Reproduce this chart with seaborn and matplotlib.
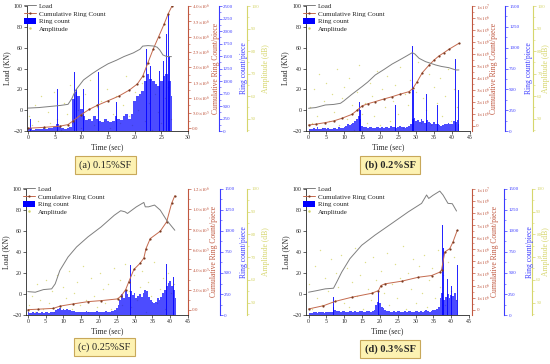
import numpy as np
import matplotlib.pyplot as plt
import seaborn as sns
from matplotlib.lines import Line2D
from matplotlib.patches import Patch
from matplotlib.ticker import AutoMinorLocator

sns.set_style("ticks")
plt.rcParams['font.family'] = ['Liberation Serif', 'DejaVu Serif']
plt.rcParams['mathtext.fontset'] = 'stix'

# colours
C_LOAD = '#7f7f7f'
C_CUM = '#c46a4e'
C_CUM_MK = '#7a3b22'
C_RED = '#c0573f'
C_BLUE = '#0000ff'
C_BLUE_AX = '#3b3bff'
C_YEL = '#d6d66c'

# -------------------------------
# (a) 0.15%SF
# -------------------------------
load_t_a = [0, 2, 4, 6, 7.5, 8.2, 8.9, 10.4, 12, 13.5, 15, 16.6, 18, 19.75, 21, 21.5, 22.5, 23.5, 24.2, 24.7, 25.3, 26, 26.9]
load_a = [2, 2.5, 3.5, 4.5, 5.6, 11, 19, 29, 35, 40, 44.5, 48, 51.5, 55, 58.5, 61.5, 62, 61.6, 60.5, 57.8, 53, 51.5, 51.4]
cum_t_a = [0, 3, 6, 7.5, 8.5, 10, 11.5, 13, 15, 17, 19, 20.5, 21.5, 22.5, 23.5, 24.5, 25.5, 26.3, 27]
cum_a = [0, 0.03e6, 0.07e6, 0.12e6, 0.25e6, 0.45e6, 0.62e6, 0.75e6, 0.9e6, 1.05e6, 1.25e6, 1.45e6,
         1.7e6, 2.15e6, 2.6e6, 3.0e6, 3.4e6, 3.75e6, 4.0e6]
# ring count envelope, one value every 0.5 s from t = 0
env_a = [40, 60, 30, 40, 50, 40, 60, 50, 70, 60, 80, 150, 90, 60, 50, 60, 80, 650, 780, 700,
         450, 300, 220, 250, 200, 300, 250, 200, 180, 250, 200, 180, 200, 300, 250, 220, 300, 350, 250, 350,
         600, 700, 750, 800, 1000, 1150, 1050, 1000, 950, 900, 1000, 1100, 1150, 1000, 700]
spike_t_a = [0.4, 5.5, 8.7, 9.1, 10.4, 12.0, 13.2, 14.8, 16.6, 18.0, 19.7, 21.0, 22.2, 23.0, 23.8, 24.6, 25.4, 25.9, 26.3, 26.6, 27.0]
spike_a = [250, 850, 1190, 850, 850, 500, 1190, 850, 590, 450, 1390, 900, 1650, 1300, 1250, 1200, 1400, 1950, 2320, 1500, 850]
amp_t_a = [0.2, 0.8, 1.3, 1.9, 2.4, 3.1, 3.7, 4.2, 4.9, 5.4, 6.1, 6.7, 7.3, 7.8, 8.3, 8.9, 9.4, 10.0, 10.6, 11.2,
           11.7, 12.3, 12.9, 13.6, 14.2, 14.8, 15.3, 15.9, 16.5, 17.2, 17.8, 18.3, 18.9, 19.5, 20.1, 20.7, 21.3,
           21.9, 22.6, 23.2, 23.8, 24.4, 25.0, 25.7, 26.3, 26.9]
amp_a = [51, 47, 56, 49, 60, 46, 53, 48, 62, 50, 45, 57, 52, 65, 48, 59, 54, 46, 61, 50, 67, 47, 55, 58, 49,
         63, 46, 52, 60, 48, 56, 69, 51, 47, 62, 54, 66, 49, 57, 45, 61, 53, 48, 59, 64, 50]

# -------------------------------
# (b) 0.2%SF
# -------------------------------
load_t_b = [0, 2, 4.7, 7, 8.9, 9.8, 12, 14.9, 16.5, 18.6, 21, 23.3, 25, 27, 28.9, 29.6, 30.8, 32.6, 35.4, 37, 39.1, 41, 41.9]
load_b = [1.8, 2.5, 5, 5.5, 6.6, 8.8, 15, 22.6, 27, 33.8, 39, 44.3, 47.5, 51.4, 55.2, 54, 49.8, 46.6, 43.4, 42, 40.8, 38.6, 38.6]
cum_t_b = [0, 2, 4.7, 7, 9.3, 12.1, 13.5, 14.9, 16.5, 18.6, 21, 23.3, 25.5, 28, 29.1, 30.3, 31.7, 33.6, 35, 36.3, 37.7, 39.1, 41.9]
cum_b = [0.08e6, 0.15e6, 0.28e6, 0.42e6, 0.64e6, 0.97e6, 1.3e6, 1.67e6, 1.85e6, 2.03e6, 2.25e6, 2.44e6,
         2.65e6, 2.86e6, 3.14e6, 3.7e6, 4.44e6, 5.08e6, 5.5e6, 5.83e6, 6.1e6, 6.39e6, 6.89e6]
env_b = [40, 30, 25, 35, 30, 45, 30, 25, 35, 40, 30, 35, 30, 25, 40, 35, 30, 45, 40, 35,
         50, 60, 80, 70, 90, 100, 120, 140, 180, 150,
         60, 50, 45, 40, 50, 45, 40, 35, 45, 50, 40, 45, 40, 50, 45, 40, 55, 50, 45, 40, 45, 60, 50, 45, 40, 50, 60, 80,
         150, 160, 120, 130, 110, 140, 120, 100, 130, 110, 100, 90, 110, 80, 90, 70,
         60, 70, 80, 90, 100, 80, 90, 120, 110, 130, 80]
spike_t_b = [10.7, 14.2, 14.5, 24.2, 28.9, 29.3, 30.8, 32.2, 32.9, 33.8, 35.0, 35.9, 39.1, 41.0, 41.8]
spike_b = [500, 350, 250, 310, 1020, 490, 520, 810, 450, 470, 290, 310, 230, 870, 490]
amp_t_b = [0.3, 1.0, 1.6, 2.3, 3.0, 3.7, 4.3, 5.0, 5.8, 6.4, 7.1, 7.9, 8.6, 9.2, 9.9, 10.7, 11.4, 12.0, 12.8, 13.5,
           14.1, 14.9, 15.6, 16.2, 17.0, 17.7, 18.3, 19.1, 19.8, 20.5, 21.2, 21.9, 22.6, 23.4, 24.1, 24.8, 25.5,
           26.3, 27.0, 27.7, 28.4, 29.1, 29.9, 30.6, 31.3, 32.0, 32.8, 33.5, 34.2, 35.0, 35.7, 36.5, 37.3, 38.1,
           38.9, 39.7, 40.5, 41.3]
amp_b = [55, 48, 63, 51, 70, 46, 58, 66, 49, 61, 53, 72, 47, 59, 64, 50, 68, 56, 45, 62, 74, 52, 57, 48, 66,
         60, 51, 71, 47, 63, 55, 69, 49, 58, 65, 52, 73, 46, 61, 56, 67, 50, 62, 75, 48, 59, 54, 70, 47, 64,
         57, 68, 51, 60, 72, 49, 63, 55]

# -------------------------------
# (c) 0.25%SF
# -------------------------------
load_t_c = [0, 2.1, 4.4, 6.7, 7.7, 9, 11.3, 13.7, 16.9, 20.6, 24.3, 26.1, 27.3, 28, 28.9, 30.5, 32.6, 33, 33.9, 35.6, 37.2, 39, 41.3]
load_c = [2.3, 1.7, 4.2, 4.9, 9.7, 22.4, 35.2, 44.8, 54.4, 63.9, 75, 79.3, 78.3, 76.7, 79, 83, 87.2, 83, 83, 84.7, 79.9, 70.3, 60.7]
cum_t_c = [0, 3, 7.2, 9, 12.7, 16.9, 20.6, 25.2, 26.3, 27.5, 28.4, 29.8, 31.5, 32.6, 33.2, 34.4, 37.2, 39, 40.4, 41.3]
cum_c = [0, 0.05e5, 0.13e5, 0.35e5, 0.57e5, 0.8e5, 0.9e5, 1.07e5, 1.4e5, 2.0e5, 2.8e5, 4.0e5, 4.6e5,
         5.13e5, 6.07e5, 7.07e5, 7.8e5, 8.73e5, 10.57e5, 11.33e5]
env_c = [30, 25, 20, 30, 25, 30, 20, 25, 30, 25, 35, 30, 25, 30, 35, 40,
         60, 70, 80, 60, 75, 65, 70, 60, 55, 50, 45, 40,
         35, 30, 40, 35, 30, 45, 40, 35, 30, 40, 35, 45, 40, 35, 30, 40, 45, 35, 40, 50, 45, 60, 80, 120,
         180, 250, 200, 300, 250, 220, 280, 240, 260, 200, 230, 250, 210, 260, 300, 280,
         220, 180, 160, 140, 150, 200, 180, 220, 260, 300, 340, 380, 400, 350, 300, 200]
spike_t_c = [26.8, 27.9, 28.9, 29.3, 31.0, 33.2, 33.5, 34.1, 36.0, 37.2, 39.0, 39.9, 40.9]
spike_c = [630, 790, 590, 550, 630, 1410, 1150, 790, 270, 390, 610, 670, 450]
amp_t_c = [0.4, 1.2, 2.0, 2.7, 3.5, 4.4, 5.1, 5.9, 6.8, 7.5, 8.3, 9.0, 9.9, 10.6, 11.5, 12.3, 13.0, 13.9, 14.6,
           15.4, 16.3, 17.0, 17.8, 18.7, 19.4, 20.2, 21.1, 21.8, 22.6, 23.5, 24.2, 25.0, 25.9, 26.6, 27.4, 28.3,
           29.0, 29.8, 30.7, 31.4, 32.2, 33.1, 33.8, 34.6, 35.5, 36.2, 37.0, 37.9, 38.6, 39.4, 40.3, 41.1]
amp_c = [49, 53, 46, 58, 51, 47, 60, 50, 55, 46, 62, 48, 57, 52, 64, 47, 54, 59, 49, 66, 51, 46, 61, 53, 48,
         63, 56, 50, 58, 47, 65, 52, 60, 49, 67, 55, 48, 62, 51, 57, 64, 46, 59, 53, 68, 50, 56, 61, 47, 63, 54, 58]

# -------------------------------
# (d) 0.3%SF
# -------------------------------
load_t_d = [0, 2, 4.7, 7, 7.9, 9.3, 11.6, 14.9, 18.6, 23.3, 28, 31.7, 33.1, 33.7, 34.9, 36.8, 37.7, 39.1, 40.3, 41.5]
load_d = [1.7, 3, 4.9, 5.5, 11.3, 20.8, 33.6, 46.4, 56, 67.1, 78.3, 86.3, 94.3, 91, 94, 98, 94.3, 86.3, 86, 79]
cum_t_d = [0, 4.2, 7.5, 12.1, 17.7, 19.6, 20.3, 21.4, 26.1, 30.8, 34.5, 36.8, 37.3, 38.2, 39.6, 40.5, 41.7]
cum_d = [0.06e6, 0.33e6, 0.69e6, 1.03e6, 1.36e6, 1.58e6, 2.0e6, 2.14e6, 2.36e6, 2.69e6, 2.83e6, 3.11e6,
         3.3e6, 4.78e6, 5.06e6, 5.61e6, 6.58e6]
env_d = [30, 25, 20, 30, 35, 25, 30, 40, 30, 25, 35, 30, 40, 35,
         90, 60, 50, 45, 40, 50, 45, 40, 35, 45, 50, 40, 45, 35, 40, 50, 45, 40, 35, 45, 50, 40, 45, 60,
         120, 160, 140, 100, 80, 60, 50, 45,
         40, 35, 45, 40, 50, 45, 40, 35, 45, 40, 50, 45, 40, 35, 45, 50, 40, 45, 40, 50, 55, 45, 40, 50, 60, 55, 70, 90,
         200, 260, 180, 220, 250, 200, 240, 230, 260, 180]
spike_t_d = [7.0, 19.6, 37.5, 37.8, 39.0, 40.1, 41.0, 41.8]
spike_d = [210, 270, 1070, 800, 430, 350, 840, 590]
amp_t_d = [0.2, 0.9, 1.7, 2.4, 3.2, 3.9, 4.7, 5.4, 6.2, 6.9, 7.7, 8.4, 9.2, 9.9, 10.7, 11.4, 12.2, 12.9, 13.7,
           14.4, 15.2, 15.9, 16.7, 17.4, 18.2, 18.9, 19.7, 20.4, 21.2, 21.9, 22.7, 23.4, 24.2, 24.9, 25.7, 26.4,
           27.2, 27.9, 28.7, 29.4, 30.2, 30.9, 31.7, 32.4, 33.2, 33.9, 34.7, 35.4, 36.2, 36.9, 37.7, 38.4, 39.2,
           39.9, 40.7, 41.4]
amp_d = [58, 47, 66, 52, 73, 49, 61, 55, 69, 46, 63, 57, 71, 50, 65, 48, 59, 74, 53, 62, 47, 68, 56, 51, 70,
         60, 45, 64, 54, 72, 49, 58, 67, 52, 61, 75, 47, 63, 56, 69, 50, 66, 54, 71, 48, 60, 65, 52, 73, 57,
         62, 49, 68, 55, 70, 51]

captions = ['(a) 0.15%SF', '(b) 0.2%SF', '(c) 0.25%SF', '(d) 0.3%SF']


def sci_label(v, dec):
    if v == 0:
        return '0.0' if dec else '0'
    e = int(np.floor(np.log10(v) + 1e-9))
    m = v / 10 ** e
    return rf'${m:.{dec}f}{{\times}}10^{{{e}}}$'


def draw_panel(fig, rect, load_t, load, cum_t, cum, env, spike_t, spike, amp_t, amp,
               xmax, xmin, red_lim, red_step, red_dec, blue_max, offs, labx):
    ax = fig.add_axes(rect)
    ax_red = ax.twinx()
    ax_blue = ax.twinx()
    ax_yel = ax.twinx()
    for a, z in ((ax, 10), (ax_red, 9), (ax_blue, 6), (ax_yel, 5)):
        a.set_zorder(z)
        a.patch.set_visible(False)

    # amplitude dots
    sns.scatterplot(x=amp_t, y=amp, ax=ax_yel, s=1.0, color=C_YEL, alpha=0.8, linewidth=0, legend=False)

    # ring count: dense envelope + tall spikes
    env_t = np.arange(len(env)) * 0.5
    ax_blue.fill_between(env_t, env, step='mid', color=C_BLUE, alpha=0.7, linewidth=0)
    ax_blue.bar(spike_t, spike, width=0.15, color=C_BLUE, alpha=0.85, linewidth=0)

    # cumulative ring count
    sns.lineplot(x=cum_t, y=cum, ax=ax_red, color=C_CUM, lw=0.7, marker='o', markersize=1.6,
                 markerfacecolor=C_CUM_MK, markeredgewidth=0, sort=False, estimator=None)

    # load
    sns.lineplot(x=load_t, y=load, ax=ax, color=C_LOAD, lw=0.7, sort=False, estimator=None)

    # main axes
    ax.set_xlim(xmin, xmax)
    ax.set_ylim(-20, 100)
    ax.set_yticks(range(-20, 101, 20))
    ax.set_xticks(range(0, int(xmax) + 1, 5))
    ax.spines['top'].set_visible(False)
    ax.spines['right'].set_visible(False)
    for s in ('left', 'bottom'):
        ax.spines[s].set_linewidth(0.6)
    ax.tick_params(labelsize=4.2, length=2, width=0.5, pad=1)
    ax.set_xlabel('Time (sec)', fontsize=5.5, labelpad=2)
    ax.set_ylabel('Load (KN)', fontsize=5.5)
    ax.yaxis.set_label_coords(-0.1, 0.5)

    # red axis
    ax_red.set_ylim(*red_lim)
    red_ticks = np.arange(0, red_lim[1] + red_step / 2, red_step)
    ax_red.set_yticks(red_ticks)
    ax_red.set_yticklabels([sci_label(v, red_dec) for v in red_ticks])
    ax_red.yaxis.set_minor_locator(AutoMinorLocator(2))
    ax_red.set_ylabel('Cumulative Ring Count/piece', fontsize=5.5, color=C_RED)
    ax_red.yaxis.set_label_coords(labx[0], 0.5)

    # blue axis
    ax_blue.set_ylim(0, blue_max)
    ax_blue.set_yticks(range(0, blue_max + 1, 250))
    ax_blue.yaxis.set_minor_locator(AutoMinorLocator(2))
    ax_blue.set_ylabel('Ring count/piece', fontsize=5.5, color=C_BLUE_AX)
    ax_blue.yaxis.set_label_coords(labx[1], 0.5)

    # amplitude axis
    ax_yel.set_ylim(44.5, 100)
    ax_yel.set_yticks(range(50, 101, 10))
    ax_yel.yaxis.set_minor_locator(AutoMinorLocator(2))
    ax_yel.set_ylabel('Amplitude (dB)', fontsize=5.5, color=C_YEL)
    ax_yel.yaxis.set_label_coords(labx[2], 0.5)

    for a, col, off in ((ax_red, C_RED, offs[0]), (ax_blue, C_BLUE_AX, offs[1]), (ax_yel, C_YEL, offs[2])):
        for s in ('top', 'bottom', 'left'):
            a.spines[s].set_visible(False)
        a.spines['right'].set_position(('axes', off))
        a.spines['right'].set_color(col)
        a.spines['right'].set_linewidth(0.8)
        a.tick_params(axis='y', which='major', labelsize=3.6, length=2, width=0.5, pad=1,
                      colors=col, labelcolor=col)
        a.tick_params(axis='y', which='minor', length=1.2, width=0.4, colors=col)

    handles = [Line2D([], [], color=C_LOAD, lw=0.7),
               Line2D([], [], color=C_CUM, lw=0.7, marker='o', markersize=1.6,
                      markerfacecolor=C_CUM_MK, markeredgewidth=0),
               Patch(facecolor=C_BLUE, edgecolor='none'),
               Line2D([], [], color=C_YEL, lw=0, marker='o', markersize=0.8)]
    ax.legend(handles, ['Load', 'Cumulative Ring Count', 'Ring count', 'Amplitude'],
              loc='upper left', bbox_to_anchor=(-0.02, 1.03), frameon=False, fontsize=5,
              handlelength=1.8, handleheight=1.1, labelspacing=0.15, handletextpad=0.4,
              borderaxespad=0, borderpad=0)
    return ax


fig = plt.figure(figsize=(5.5, 3.64), dpi=100)
fig.patch.set_facecolor('white')

draw_panel(fig, [0.0491, 0.6401, 0.2927, 0.3434], load_t_a, load_a, cum_t_a, cum_a, env_a,
           spike_t_a, spike_a, amp_t_a, amp_a, 30, -0.2, (-0.09e6, 4.0e6), 0.5e6, 1, 2500,
           (1.0, 1.19, 1.366), (1.149, 1.32, 1.46))
draw_panel(fig, [0.5564, 0.6401, 0.2982, 0.3434], load_t_b, load_b, cum_t_b, cum_b, env_b,
           spike_t_b, spike_b, amp_t_b, amp_b, 45, -0.7, (-0.42e6, 1.0e7), 1e6, 0, 1500,
           (1.01, 1.213, 1.384), (1.122, 1.335, 1.44))
draw_panel(fig, [0.0473, 0.1346, 0.2945, 0.3462], load_t_c, load_c, cum_t_c, cum_c, env_c,
           spike_t_c, spike_c, amp_t_c, amp_c, 45, -0.5, (-0.053e6, 1.2e6), 2e5, 1, 1500,
           (1.0, 1.198, 1.364), (1.136, 1.32, 1.457))
draw_panel(fig, [0.5564, 0.1346, 0.2964, 0.3462], load_t_d, load_d, cum_t_d, cum_d, env_d,
           spike_t_d, spike_d, amp_t_d, amp_d, 45, -0.7, (-0.44e6, 1.0e7), 1e6, 0, 1500,
           (1.02, 1.215, 1.387), (1.135, 1.35, 1.45))

box = dict(boxstyle='square,pad=0.45', facecolor='#fdf2b2', edgecolor='#c8a85a', linewidth=0.8)
cap_pos = [(105.5, 165), (390, 165), (104.5, 347), (390, 349)]
for i, (cap, (px, py)) in enumerate(zip(captions, cap_pos)):
    fig.text(px / 550, 1 - py / 364, cap, ha='center', va='center', fontsize=7.5,
             fontweight='bold' if i % 2 else 'normal', bbox=box)

plt.savefig('out.png', dpi=100)
